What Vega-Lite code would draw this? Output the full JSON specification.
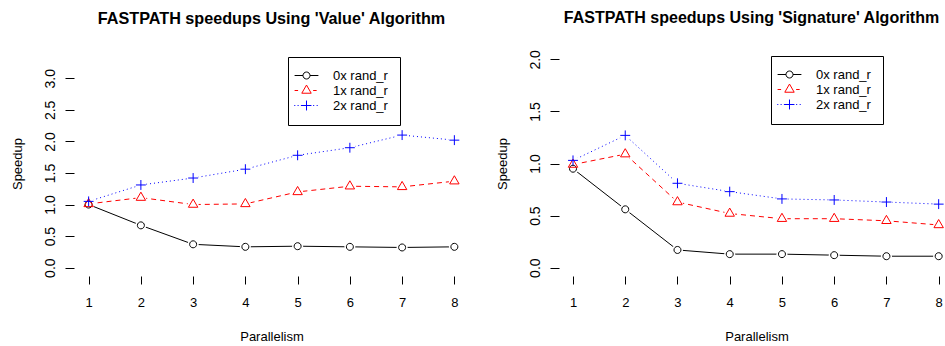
{
  "$schema": "https://vega.github.io/schema/vega-lite/v6.json",
  "background": "white",
  "padding": {"left": 11, "top": 9, "right": 0, "bottom": 0},
  "bounds": "flush",
  "spacing": 90,
  "resolve": {"scale": {"color": "independent", "shape": "independent"}, "legend": {"color": "independent", "shape": "independent"}},
  "config": {
    "font": "Liberation Sans",
    "view": {"stroke": null},
    "axis": {"grid": false, "domain": false, "tickColor": "black", "tickWidth": 1, "labelColor": "black", "titleColor": "black", "labelFont": "Liberation Sans", "titleFont": "Liberation Sans", "labelFontSize": 13, "titleFontSize": 13, "titleFontWeight": "normal"},
    "title": {"font": "Liberation Sans", "fontSize": 16.2, "fontWeight": "bold", "color": "black", "anchor": "middle", "offset": 24}
  },
  "datasets": {
    "value": [
      {"Parallelism": 1, "Speedup": 1.00, "series": "0x rand_r"},
      {"Parallelism": 2, "Speedup": 0.67, "series": "0x rand_r"},
      {"Parallelism": 3, "Speedup": 0.37, "series": "0x rand_r"},
      {"Parallelism": 4, "Speedup": 0.33, "series": "0x rand_r"},
      {"Parallelism": 5, "Speedup": 0.34, "series": "0x rand_r"},
      {"Parallelism": 6, "Speedup": 0.33, "series": "0x rand_r"},
      {"Parallelism": 7, "Speedup": 0.32, "series": "0x rand_r"},
      {"Parallelism": 8, "Speedup": 0.33, "series": "0x rand_r"},
      {"Parallelism": 1, "Speedup": 1.01, "series": "1x rand_r"},
      {"Parallelism": 2, "Speedup": 1.11, "series": "1x rand_r"},
      {"Parallelism": 3, "Speedup": 1.00, "series": "1x rand_r"},
      {"Parallelism": 4, "Speedup": 1.01, "series": "1x rand_r"},
      {"Parallelism": 5, "Speedup": 1.20, "series": "1x rand_r"},
      {"Parallelism": 6, "Speedup": 1.29, "series": "1x rand_r"},
      {"Parallelism": 7, "Speedup": 1.28, "series": "1x rand_r"},
      {"Parallelism": 8, "Speedup": 1.37, "series": "1x rand_r"},
      {"Parallelism": 1, "Speedup": 1.05, "series": "2x rand_r"},
      {"Parallelism": 2, "Speedup": 1.31, "series": "2x rand_r"},
      {"Parallelism": 3, "Speedup": 1.42, "series": "2x rand_r"},
      {"Parallelism": 4, "Speedup": 1.56, "series": "2x rand_r"},
      {"Parallelism": 5, "Speedup": 1.78, "series": "2x rand_r"},
      {"Parallelism": 6, "Speedup": 1.90, "series": "2x rand_r"},
      {"Parallelism": 7, "Speedup": 2.10, "series": "2x rand_r"},
      {"Parallelism": 8, "Speedup": 2.02, "series": "2x rand_r"}
    ],
    "signature": [
      {"Parallelism": 1, "Speedup": 0.95, "series": "0x rand_r"},
      {"Parallelism": 2, "Speedup": 0.56, "series": "0x rand_r"},
      {"Parallelism": 3, "Speedup": 0.17, "series": "0x rand_r"},
      {"Parallelism": 4, "Speedup": 0.13, "series": "0x rand_r"},
      {"Parallelism": 5, "Speedup": 0.13, "series": "0x rand_r"},
      {"Parallelism": 6, "Speedup": 0.12, "series": "0x rand_r"},
      {"Parallelism": 7, "Speedup": 0.11, "series": "0x rand_r"},
      {"Parallelism": 8, "Speedup": 0.11, "series": "0x rand_r"},
      {"Parallelism": 1, "Speedup": 0.99, "series": "1x rand_r"},
      {"Parallelism": 2, "Speedup": 1.09, "series": "1x rand_r"},
      {"Parallelism": 3, "Speedup": 0.63, "series": "1x rand_r"},
      {"Parallelism": 4, "Speedup": 0.52, "series": "1x rand_r"},
      {"Parallelism": 5, "Speedup": 0.47, "series": "1x rand_r"},
      {"Parallelism": 6, "Speedup": 0.47, "series": "1x rand_r"},
      {"Parallelism": 7, "Speedup": 0.45, "series": "1x rand_r"},
      {"Parallelism": 8, "Speedup": 0.41, "series": "1x rand_r"},
      {"Parallelism": 1, "Speedup": 1.03, "series": "2x rand_r"},
      {"Parallelism": 2, "Speedup": 1.27, "series": "2x rand_r"},
      {"Parallelism": 3, "Speedup": 0.81, "series": "2x rand_r"},
      {"Parallelism": 4, "Speedup": 0.73, "series": "2x rand_r"},
      {"Parallelism": 5, "Speedup": 0.66, "series": "2x rand_r"},
      {"Parallelism": 6, "Speedup": 0.65, "series": "2x rand_r"},
      {"Parallelism": 7, "Speedup": 0.63, "series": "2x rand_r"},
      {"Parallelism": 8, "Speedup": 0.61, "series": "2x rand_r"}
    ]
  },
  "hconcat": [
    {
      "title": {"text": "FASTPATH speedups Using 'Value' Algorithm"},
      "width": 395,
      "height": 225,
      "encoding": {
        "x": {"field": "Parallelism", "type": "quantitative", "scale": {"domain": [0.72, 8.28], "nice": false, "zero": false}, "axis": {"values": [1, 2, 3, 4, 5, 6, 7, 8], "format": "d", "title": "Parallelism", "tickSize": 8, "labelPadding": 12, "titlePadding": 21, "labelFlush": false, "labelOverlap": false}},
        "y": {"field": "Speedup", "type": "quantitative", "scale": {"domain": [-0.132, 3.432], "nice": false, "zero": false}, "axis": {"values": [0, 0.5, 1, 1.5, 2, 2.5, 3], "format": ".1f", "title": "Speedup", "titleFontSize": 13, "labelFontSize": 14, "labelAngle": -90, "labelAlign": "center", "labelBaseline": "alphabetic", "tickSize": 9, "labelPadding": 11, "titlePadding": 19, "labelOverlap": false, "labelFlush": false}}
      },
      "layer": [
        {"data": {"name": "value"}, "transform": [{"filter": "datum.series === '0x rand_r'"}], "mark": {"type": "line", "strokeWidth": 1, "color": "#000000"}},
        {"data": {"name": "value"}, "transform": [{"filter": "datum.series === '1x rand_r'"}], "mark": {"type": "line", "strokeWidth": 1, "color": "#FF0000", "strokeDash": [5, 4]}},
        {"data": {"name": "value"}, "transform": [{"filter": "datum.series === '2x rand_r'"}], "mark": {"type": "line", "strokeWidth": 1, "color": "#0000FF", "strokeDash": [1, 3]}},
        {"data": {"name": "value"}, "mark": {"type": "point", "filled": true, "shape": "circle", "size": 121, "color": "white", "opacity": 1, "strokeWidth": 0}},
        {"data": {"name": "value"}, "transform": [{"filter": "datum.series === '0x rand_r'"}], "mark": {"type": "point", "filled": false, "size": 49, "strokeWidth": 1, "opacity": 1, "color": "#000000", "shape": "M1,0A1,1 0 1 1 -1,0A1,1 0 1 1 1,0Z"}},
        {"data": {"name": "value"}, "transform": [{"filter": "datum.series === '1x rand_r'"}], "mark": {"type": "point", "filled": false, "size": 49, "strokeWidth": 1, "opacity": 1, "color": "#FF0000", "shape": "M0,-1.555L1.347,0.778L-1.347,0.778Z"}},
        {"data": {"name": "value"}, "transform": [{"filter": "datum.series === '2x rand_r'"}], "mark": {"type": "point", "filled": false, "size": 49, "strokeWidth": 1, "opacity": 1, "color": "#0000FF", "shape": "M-1.414,0L1.414,0M0,-1.414L0,1.414"}},
        {
          "data": {"name": "value"},
          "mark": {"type": "point", "filled": false, "size": 49, "strokeWidth": 1, "opacity": 0},
          "encoding": {
            "color": {"field": "series", "type": "nominal", "scale": {"domain": ["0x rand_r", "1x rand_r", "2x rand_r"], "range": ["#000000", "#FF0000", "#0000FF"]}, "legend": {"orient": "none", "legendX": 214, "legendY": 6, "title": null, "strokeColor": "black", "fillColor": "white", "padding": 12, "cornerRadius": 0, "labelFont": "Liberation Sans", "labelFontSize": 13, "labelColor": "black", "labelOffset": 20, "symbolSize": 49, "symbolStrokeWidth": 1, "symbolOpacity": 1, "rowPadding": 0}},
            "shape": {"field": "series", "type": "nominal", "scale": {"domain": ["0x rand_r", "1x rand_r", "2x rand_r"], "range": ["M-3.4,0L-1,0M1,0L3.4,0M1,0A1,1 0 1 1 -1,0A1,1 0 1 1 1,0", "M-3.4,0L-2.4,0M1.9,0L2.9,0M0,-1.555L1.347,0.778L-1.347,0.778Z", "M-3.5,0L-3.2,0M-2.55,0L-2.25,0M-1.6,0L-1.3,0M1.9,0L2.2,0M2.9,0L3.2,0M-1.414,0L1.414,0M0,-1.414L0,1.414"]}, "legend": {"orient": "none", "legendX": 214, "legendY": 6, "title": null, "strokeColor": "black", "fillColor": "white", "padding": 12, "cornerRadius": 0, "labelFont": "Liberation Sans", "labelFontSize": 13, "labelColor": "black", "labelOffset": 20, "symbolSize": 49, "symbolStrokeWidth": 1, "symbolOpacity": 1, "rowPadding": 0}}
          }
        },
        {"data": {"values": [{}]}, "mark": {"type": "rule", "color": "black", "strokeWidth": 1}, "encoding": {"x": {"datum": 1, "type": "quantitative"}, "x2": {"datum": 8}, "y": {"datum": -0.132, "type": "quantitative"}}},
        {"data": {"values": [{}]}, "mark": {"type": "rule", "color": "black", "strokeWidth": 1}, "encoding": {"x": {"datum": 0.72, "type": "quantitative"}, "y": {"datum": 0, "type": "quantitative"}, "y2": {"datum": 3}}}
      ]
    },
    {
      "title": {"text": "FASTPATH speedups Using 'Signature' Algorithm", "fontSize": 16},
      "width": 385,
      "height": 225,
      "encoding": {
        "x": {"field": "Parallelism", "type": "quantitative", "scale": {"domain": [0.732, 8.102], "nice": false, "zero": false}, "axis": {"values": [1, 2, 3, 4, 5, 6, 7, 8], "format": "d", "title": "Parallelism", "tickSize": 8, "labelPadding": 12, "titlePadding": 21, "labelFlush": false, "labelOverlap": false, "titleX": 197.5}},
        "y": {"field": "Speedup", "type": "quantitative", "scale": {"domain": [-0.08, 2.08], "nice": false, "zero": false}, "axis": {"values": [0, 0.5, 1, 1.5, 2], "format": ".1f", "title": "Speedup", "titleFontSize": 13, "labelFontSize": 14, "labelAngle": -90, "labelAlign": "center", "labelBaseline": "alphabetic", "tickSize": 9, "labelPadding": 11, "titlePadding": 19, "labelOverlap": false, "labelFlush": false}}
      },
      "layer": [
        {"data": {"name": "signature"}, "transform": [{"filter": "datum.series === '0x rand_r'"}], "mark": {"type": "line", "strokeWidth": 1, "color": "#000000"}},
        {"data": {"name": "signature"}, "transform": [{"filter": "datum.series === '1x rand_r'"}], "mark": {"type": "line", "strokeWidth": 1, "color": "#FF0000", "strokeDash": [5, 4]}},
        {"data": {"name": "signature"}, "transform": [{"filter": "datum.series === '2x rand_r'"}], "mark": {"type": "line", "strokeWidth": 1, "color": "#0000FF", "strokeDash": [1, 3]}},
        {"data": {"name": "signature"}, "mark": {"type": "point", "filled": true, "shape": "circle", "size": 121, "color": "white", "opacity": 1, "strokeWidth": 0}},
        {"data": {"name": "signature"}, "transform": [{"filter": "datum.series === '0x rand_r'"}], "mark": {"type": "point", "filled": false, "size": 49, "strokeWidth": 1, "opacity": 1, "color": "#000000", "shape": "M1,0A1,1 0 1 1 -1,0A1,1 0 1 1 1,0Z"}},
        {"data": {"name": "signature"}, "transform": [{"filter": "datum.series === '1x rand_r'"}], "mark": {"type": "point", "filled": false, "size": 49, "strokeWidth": 1, "opacity": 1, "color": "#FF0000", "shape": "M0,-1.555L1.347,0.778L-1.347,0.778Z"}},
        {"data": {"name": "signature"}, "transform": [{"filter": "datum.series === '2x rand_r'"}], "mark": {"type": "point", "filled": false, "size": 49, "strokeWidth": 1, "opacity": 1, "color": "#0000FF", "shape": "M-1.414,0L1.414,0M0,-1.414L0,1.414"}},
        {
          "data": {"name": "signature"},
          "mark": {"type": "point", "filled": false, "size": 49, "strokeWidth": 1, "opacity": 0},
          "encoding": {
            "color": {"field": "series", "type": "nominal", "scale": {"domain": ["0x rand_r", "1x rand_r", "2x rand_r"], "range": ["#000000", "#FF0000", "#0000FF"]}, "legend": {"orient": "none", "legendX": 212, "legendY": 5, "title": null, "strokeColor": "black", "fillColor": "white", "padding": 12, "cornerRadius": 0, "labelFont": "Liberation Sans", "labelFontSize": 13, "labelColor": "black", "labelOffset": 20, "symbolSize": 49, "symbolStrokeWidth": 1, "symbolOpacity": 1, "rowPadding": 0}},
            "shape": {"field": "series", "type": "nominal", "scale": {"domain": ["0x rand_r", "1x rand_r", "2x rand_r"], "range": ["M-3.4,0L-1,0M1,0L3.4,0M1,0A1,1 0 1 1 -1,0A1,1 0 1 1 1,0", "M-3.4,0L-2.4,0M1.9,0L2.9,0M0,-1.555L1.347,0.778L-1.347,0.778Z", "M-3.5,0L-3.2,0M-2.55,0L-2.25,0M-1.6,0L-1.3,0M1.9,0L2.2,0M2.9,0L3.2,0M-1.414,0L1.414,0M0,-1.414L0,1.414"]}, "legend": {"orient": "none", "legendX": 212, "legendY": 5, "title": null, "strokeColor": "black", "fillColor": "white", "padding": 12, "cornerRadius": 0, "labelFont": "Liberation Sans", "labelFontSize": 13, "labelColor": "black", "labelOffset": 20, "symbolSize": 49, "symbolStrokeWidth": 1, "symbolOpacity": 1, "rowPadding": 0}}
          }
        },
        {"data": {"values": [{}]}, "mark": {"type": "rule", "color": "black", "strokeWidth": 1}, "encoding": {"x": {"datum": 1, "type": "quantitative"}, "x2": {"datum": 8}, "y": {"datum": -0.08, "type": "quantitative"}}},
        {"data": {"values": [{}]}, "mark": {"type": "rule", "color": "black", "strokeWidth": 1}, "encoding": {"x": {"datum": 0.732, "type": "quantitative"}, "y": {"datum": 0, "type": "quantitative"}, "y2": {"datum": 2}}}
      ]
    }
  ]
}
